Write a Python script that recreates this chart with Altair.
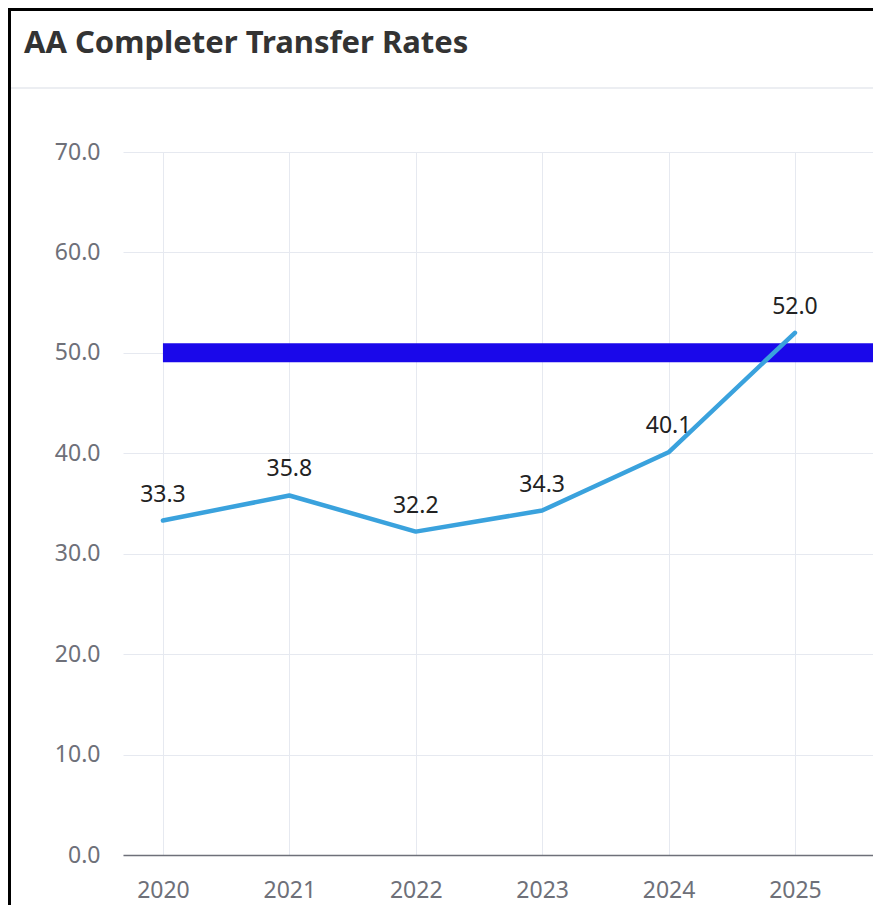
import altair as alt
import pandas as pd

# ---- data ----
years = [2020, 2021, 2022, 2023, 2024, 2025]
rates = [33.3, 35.8, 32.2, 34.3, 40.1, 52.0]
target_value = [50.0]
target_start = [2020]
y_ticks = [0, 10, 20, 30, 40, 50, 60, 70]
title_text = ["AA Completer Transfer Rates"]

PLOT_W = 750
X_MIN = 2019.684
X_MAX = X_MIN + PLOT_W / 126.4
FONT = "Noto Sans"
AXIS_GRAY = "#6e7079"
GRID = "#e6e9f0"
FS = 23

df = pd.DataFrame({"year": years, "rate": rates})
df_target = pd.DataFrame({"start": target_start, "end": [X_MAX], "value": target_value})
df_title = pd.DataFrame({"t": title_text})
df_one = pd.DataFrame({"k": [0]})

xscale = alt.Scale(domain=[X_MIN, X_MAX], nice=False, zero=False)
yscale = alt.Scale(domain=[0, 70], nice=False)

x_axis = alt.Axis(values=years, format="d", title=None, grid=True, gridColor=GRID,
                  ticks=False, domainColor=AXIS_GRAY, domainWidth=1.5,
                  labelFontSize=FS, labelColor=AXIS_GRAY, labelFont=FONT,
                  labelBaseline="alphabetic", labelPadding=42, labelFlush=False)
y_axis = alt.Axis(values=y_ticks, format=".1f", title=None, grid=True, gridColor=GRID,
                  ticks=False, domain=False, labelFontSize=FS, labelColor=AXIS_GRAY,
                  labelFont=FONT, labelPadding=23)

base = alt.Chart(df)

line = base.mark_line(color="#3aa2dd", strokeWidth=4.5, strokeJoin="round",
                      strokeCap="round").encode(
    x=alt.X("year:Q", scale=xscale, axis=x_axis),
    y=alt.Y("rate:Q", scale=yscale, axis=y_axis),
)

labels = base.mark_text(dy=-19, baseline="alphabetic", fontSize=FS, font=FONT,
                        color="#222222").encode(
    x="year:Q", y="rate:Q", text=alt.Text("rate:Q", format=".1f"))

target = alt.Chart(df_target).mark_rule(color="#1a08ea", strokeWidth=19,
                                        strokeCap="butt").encode(
    x="start:Q", x2="end:Q", y="value:Q")

title = alt.Chart(df_title).mark_text(align="left", baseline="alphabetic",
                                      fontSize=31, fontWeight="bold", font=FONT,
                                      color="#333333").encode(
    x=alt.value(24 - 123), y=alt.value(53 - 152), text="t:N")

sep = alt.Chart(df_one).mark_rule(color="#eceef2", strokeWidth=2).encode(
    x=alt.value(-115), x2=alt.value(PLOT_W), y=alt.value(88 - 152))

border_top = alt.Chart(df_one).mark_rule(color="#000000", strokeWidth=3).encode(
    x=alt.value(-115), x2=alt.value(PLOT_W), y=alt.value(-142.5))

border_left = alt.Chart(df_one).mark_rule(color="#000000", strokeWidth=3).encode(
    x=alt.value(-113.5), y=alt.value(-144), y2=alt.value(770))

chart = alt.layer(target, line, labels, title, sep, border_top, border_left).properties(
    width=PLOT_W, height=703,
    autosize=alt.AutoSizeParams(type="none"),
    padding={"left": 115, "top": 144, "right": 0, "bottom": 50},
).configure_view(stroke=None)

chart.save("out.html", embed_options={"renderer": "svg", "actions": False})
